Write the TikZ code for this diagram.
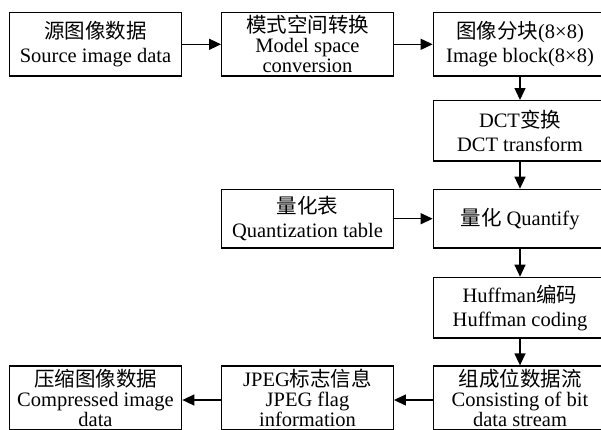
\documentclass[tikz,border=0pt]{standalone}
\usepackage{fontspec}
\setmainfont{Liberation Serif}
\newfontfamily\cjk{Noto Sans CJK SC}
\usetikzlibrary{arrows.meta}
\begin{document}
\begin{tikzpicture}[x=1pt,y=-1pt,
  box/.style={draw=black, line width=1.3pt, align=center, inner sep=0pt,
    font=\fontsize{20.5}{24}\selectfont},
  boxthree/.style={box, font=\fontsize{20.5}{20}\selectfont},
  arr/.style={line width=1.3pt, -{Triangle[length=12pt,width=11pt]}}]
\clip (0,0) rectangle (601,429);
\fill[white] (0,0) rectangle (601,429);
% top row
\node[box, minimum width=172.4pt, minimum height=63.3pt] (src) at (95.5,44.3)
  {{\cjk 源图像数据}\\Source image data};
\node[boxthree, minimum width=171.6pt, minimum height=63.3pt] (model) at (307.5,44.3)
  {{\cjk 模式空间转换}\\Model space\\conversion};
\node[box, minimum width=173.4pt, minimum height=63.3pt] (blk) at (520,44.3)
  {{\cjk 图像分块}(8×8)\\Image block(8×8)};
% right column
\node[box, minimum width=173.4pt, minimum height=60.3pt] (dct) at (520,130.8)
  {DCT{\cjk 变换}\\DCT transform};
\node[box, minimum width=173.4pt, minimum height=58.7pt] (quant) at (520,218.7)
  {{\cjk 量化} Quantify};
\node[box, minimum width=171.6pt, minimum height=58.7pt] (qtab) at (307.5,218.7)
  {{\cjk 量化表}\\Quantization table};
\node[box, minimum width=173.4pt, minimum height=60.7pt] (huff) at (520,307.7)
  {Huffman{\cjk 编码}\\Huffman coding};
% bottom row
\node[boxthree, minimum width=173.4pt, minimum height=64pt] (bits) at (520,398)
  {{\cjk 组成位数据流}\\Consisting of bit\\data stream};
\node[boxthree, minimum width=171.6pt, minimum height=64pt] (flag) at (307.5,398)
  {JPEG{\cjk 标志信息}\\JPEG flag\\information};
\node[boxthree, minimum width=172.4pt, minimum height=64pt] (comp) at (95.5,398)
  {{\cjk 压缩图像数据}\\Compressed image\\data};
% connectors
\draw[arr] (src) -- (model);
\draw[arr] (model) -- (blk);
\draw[arr] (blk) -- (dct);
\draw[arr] (dct) -- (quant);
\draw[arr] (qtab) -- (quant);
\draw[arr] (quant) -- (huff);
\draw[arr] (huff) -- (bits);
\draw[arr] (bits.west |- 0,400) -- (flag.east |- 0,400);
\draw[arr] (flag.west |- 0,400) -- (comp.east |- 0,400);
\end{tikzpicture}
\end{document}
